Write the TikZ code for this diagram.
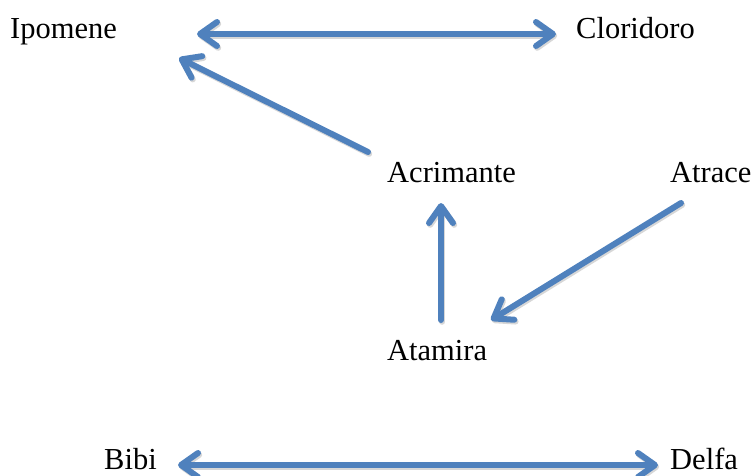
\documentclass[tikz,border=0pt]{standalone}
\usepackage{fontspec}
\setmainfont{Liberation Serif}
\usetikzlibrary{arrows.meta}
\definecolor{linkblue}{HTML}{4F81BD}
\tikzset{
  person/.style={inner sep=0pt, anchor=base west, font=\fontsize{30.5}{36}\selectfont},
  barb/.tip={Straight Barb[length=17pt, width=24pt, round]},
  link/.style={draw=linkblue, line width=6pt, line cap=round, -barb},
  biglink/.style={link, barb-barb},
  shadowed/.style={draw=black!35, opacity=0.45}
}
\begin{document}
\begin{tikzpicture}[x=1pt, y=-1pt]
  \useasboundingbox (0,0) rectangle (755,475);

  % characters
  \node[person] (ipo) at (10,38) {Ipomene};
  \node[person] (clo) at (576,38) {Cloridoro};
  \node[person] (acr) at (387,182) {Acrimante};
  \node[person] (atr) at (670,182) {Atrace};
  \node[person] (ata) at (387,360) {Atamira};
  \node[person] (bib) at (104,469) {Bibi};
  \node[person] (del) at (670,469) {Delfa};

  % arrow end points next to the names
  \coordinate (ipoR) at (197,34);
  \coordinate (cloL) at (556,34);
  \coordinate (ipoB) at (179,58);
  \coordinate (acrL) at (368,152);
  \coordinate (acrB) at (441,203);
  \coordinate (ataT) at (441,320);
  \coordinate (atrB) at (681,203);
  \coordinate (ataR) at (491,320);
  \coordinate (bibR) at (178,465);
  \coordinate (delL) at (658,465);

  % soft shadows under the arrows
  \begin{scope}[transform canvas={shift={(1.2pt,-1.8pt)}}]
    \draw[biglink, shadowed] (ipoR) -- (cloL);
    \draw[link, shadowed] (acrL) -- (ipoB);
    \draw[link, shadowed] (ataT) -- (acrB);
    \draw[link, shadowed] (atrB) -- (ataR);
    \draw[biglink, shadowed] (bibR) -- (delL);
  \end{scope}

  % relations
  \draw[biglink] (ipoR) -- (cloL);
  \draw[link] (acrL) -- (ipoB);
  \draw[link] (ataT) -- (acrB);
  \draw[link] (atrB) -- (ataR);
  \draw[biglink] (bibR) -- (delL);
\end{tikzpicture}
\end{document}
